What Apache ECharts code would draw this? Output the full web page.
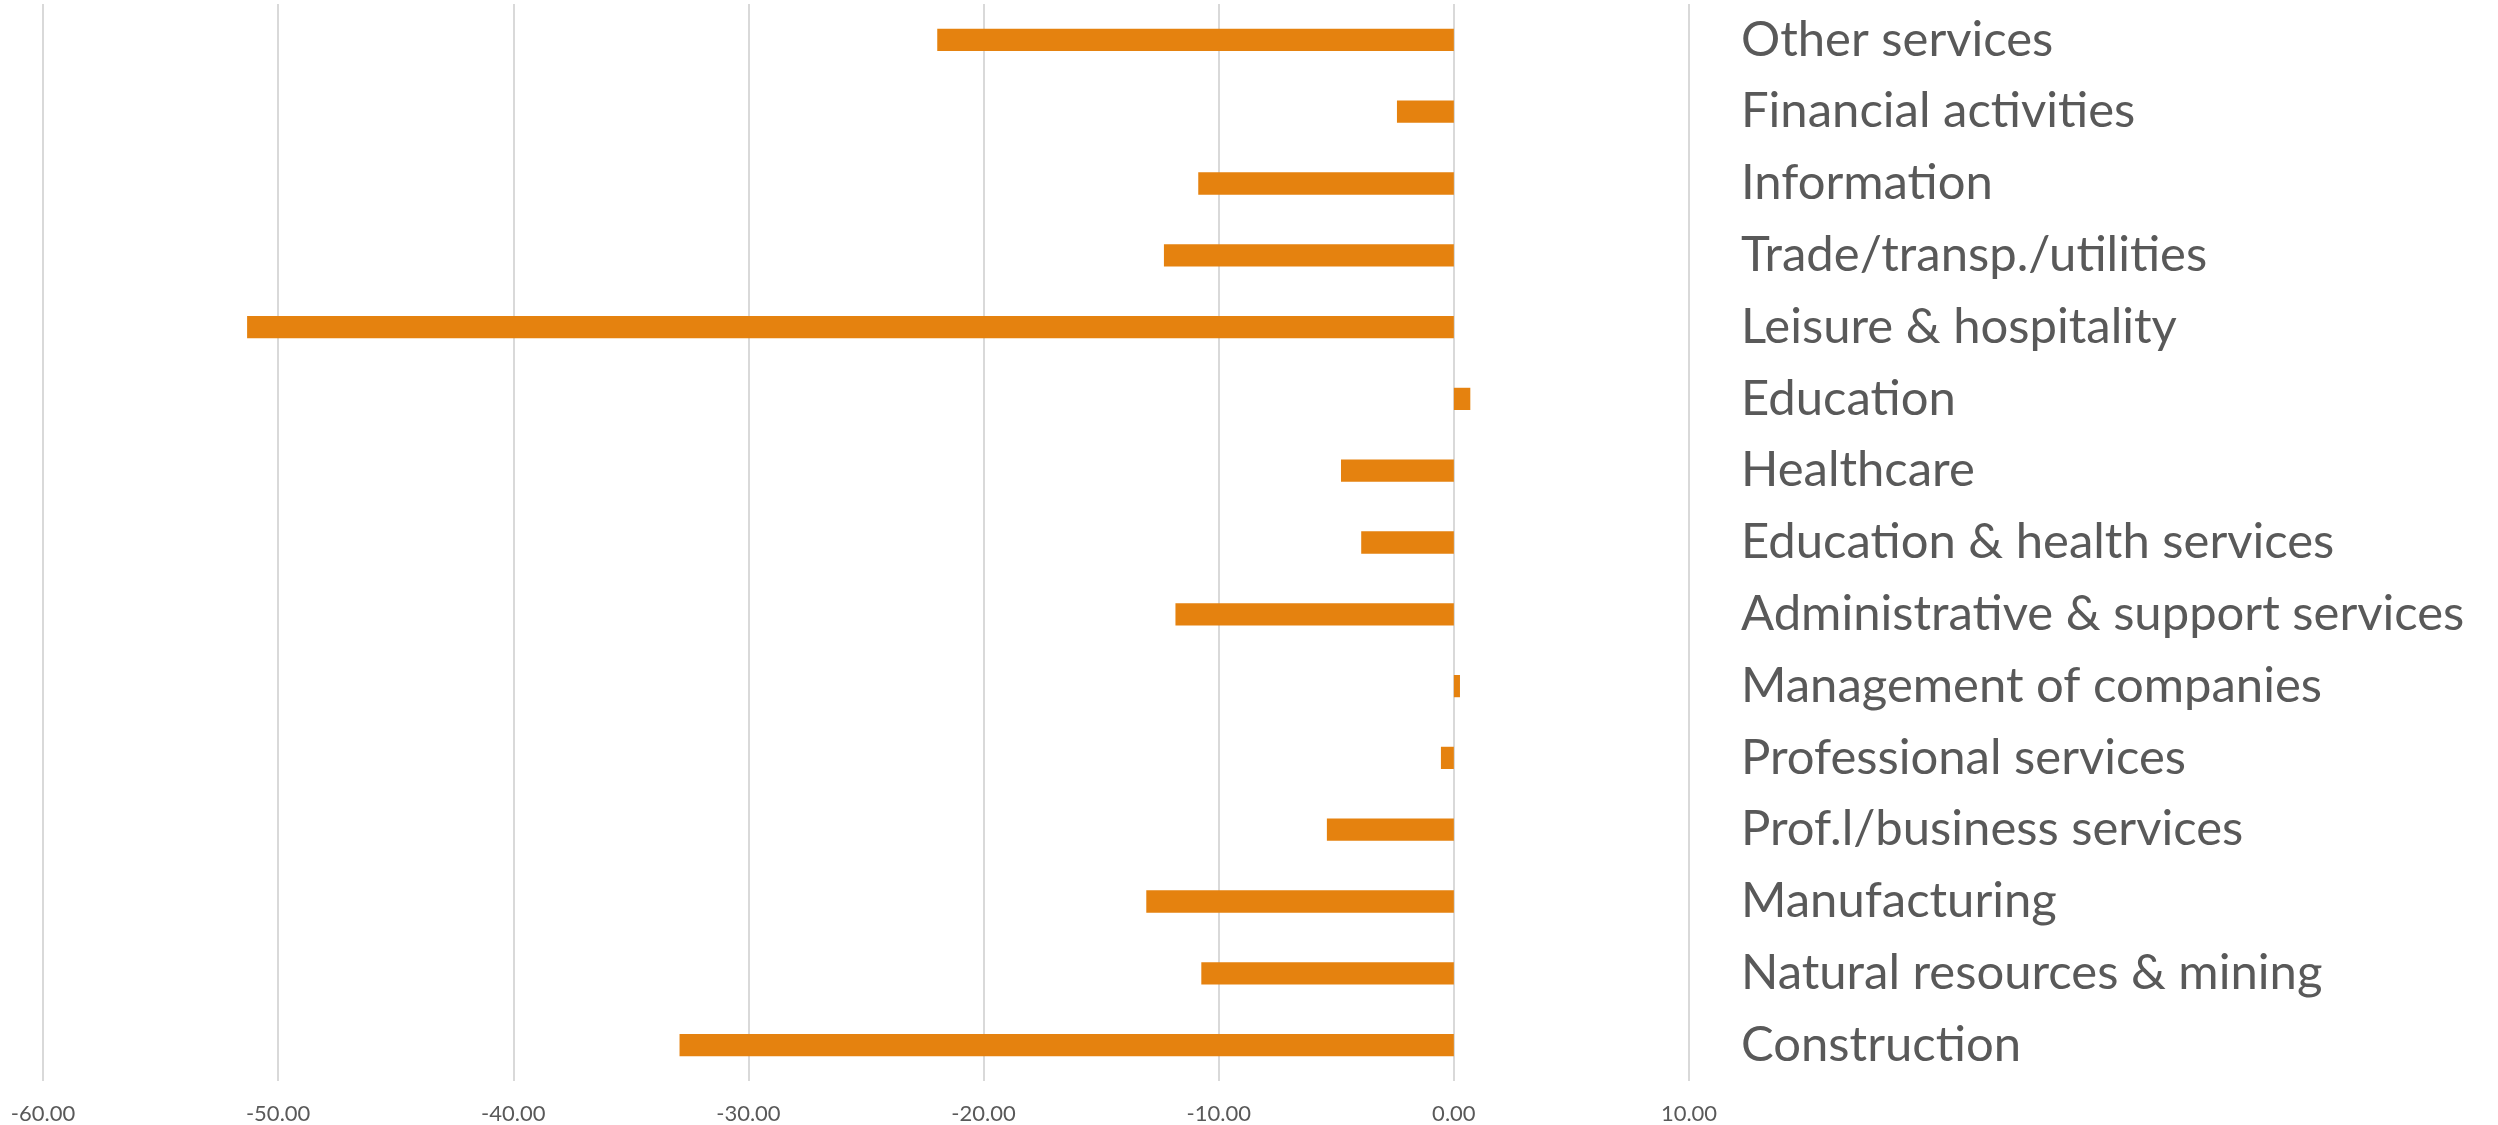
<!DOCTYPE html>
<html>
<head>
<meta charset="utf-8">
<script src="https://cdn.jsdelivr.net/npm/echarts@6/dist/echarts.min.js"></script>
<style>
html,body{margin:0;padding:0;background:#fff;}
#chart{width:2498px;height:1125px;}
</style>
</head>
<body>
<div id="chart"></div>
<script>
const categories = [
  "Construction",
  "Natural resources & mining",
  "Manufacturing",
  "Prof.l/business services",
  "Professional services",
  "Management of companies",
  "Administrative & support services",
  "Education & health services",
  "Healthcare",
  "Education",
  "Leisure & hospitality",
  "Trade/transp./utilities",
  "Information",
  "Financial activities",
  "Other services"
];
const values = [-32.93, -10.74, -13.08, -5.40, -0.55, 0.26, -11.84, -3.94, -4.80, 0.70, -51.32, -12.33, -10.87, -2.42, -21.97];
const xTicks = { min: -60, max: 10, interval: 10 };

const chart = echarts.init(document.getElementById('chart'), null, { renderer: 'canvas' });
chart.setOption({
  animation: false,
  backgroundColor: '#ffffff',
  grid: { left: 43, right: 809, top: 4, bottom: 44, containLabel: false },
  xAxis: {
    type: 'value',
    min: xTicks.min, max: xTicks.max, interval: xTicks.interval,
    axisLine: { show: false },
    axisTick: { show: false },
    splitLine: { show: true, lineStyle: { color: '#d9d9d9', width: 2 } },
    axisLabel: {
      color: '#595959', fontFamily: 'Lato', fontSize: 22, margin: 22,
      formatter: v => v.toFixed(2)
    }
  },
  yAxis: {
    type: 'category',
    data: categories,
    position: 'right',
    axisLine: { show: false },
    axisTick: { show: false },
    splitLine: { show: false },
    axisLabel: {
      color: '#595959', fontFamily: 'Lato', fontSize: 49, margin: 52, align: 'left'
    }
  },
  series: [{
    type: 'bar',
    data: values,
    barWidth: '31%',
    itemStyle: { color: '#E5820F' }
  }]
});
</script>
</body>
</html>
